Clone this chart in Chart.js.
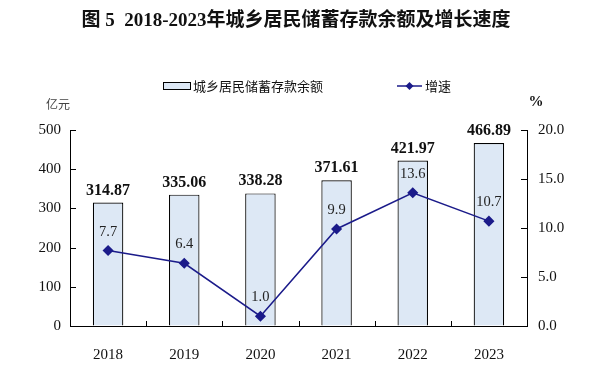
<!DOCTYPE html>
<html>
<head>
<meta charset="utf-8">
<script src="https://cdn.jsdelivr.net/npm/chart.js@4/dist/chart.umd.min.js"></script>
<style>
  html, body { margin: 0; padding: 0; background: #fff; }
  #wrap { width: 590px; height: 379px; position: relative; }
</style>
</head>
<body>
<div id="wrap"><canvas id="myChart" width="590" height="379"></canvas></div>
<script>
// datos del grafico
var years = ['2018', '2019', '2020', '2021', '2022', '2023']
var saldo = [314.87, 335.06, 338.28, 371.61, 421.97, 466.89]
var crecimiento = [7.7, 6.4, 1.0, 9.9, 13.6, 10.7]
var ticksIzq = [0, 100, 200, 300, 400, 500]
var ticksDer = [0, 5, 10, 15, 20]

var titulo = '图 5  2018-2023年城乡居民储蓄存款余额及增长速度'
var leyendaBarra = '城乡居民储蓄存款余额'
var leyendaLinea = '增速'

var serif = "'Liberation Serif', 'Times New Roman', 'Noto Sans CJK SC', serif"
var cjk = "'Noto Sans CJK SC', sans-serif"
var azul = '#1b1b8a'

var extras = {
    id: 'extras',
    afterDatasetsDraw: function (chart) {
        var ctx = chart.ctx
        var area = chart.chartArea
        var x = chart.scales.x
        ctx.save()
        // titulo
        ctx.fillStyle = '#111'
        ctx.font = 'bold 19px ' + serif
        ctx.textAlign = 'center'
        ctx.textBaseline = 'middle'
        ctx.fillText(titulo, 296, 21)

        // leyenda
        ctx.fillStyle = '#dde8f5'
        ctx.fillRect(163.5, 82.5, 27, 7)
        ctx.strokeStyle = '#000'
        ctx.lineWidth = 1
        ctx.strokeRect(163.5, 82.5, 27, 7)
        ctx.font = '13px ' + cjk
        ctx.fillStyle = '#111'
        ctx.textAlign = 'left'
        ctx.fillText(leyendaBarra, 193, 86)
        ctx.strokeStyle = azul
        ctx.lineWidth = 1.5
        ctx.beginPath(); ctx.moveTo(397, 86); ctx.lineTo(422, 86); ctx.stroke()
        ctx.fillStyle = azul
        ctx.beginPath(); ctx.moveTo(409.5, 82); ctx.lineTo(413.5, 86); ctx.lineTo(409.5, 90); ctx.lineTo(405.5, 86); ctx.closePath(); ctx.fill()
        ctx.fillStyle = '#111'
        ctx.fillText(leyendaLinea, 425, 86)

        // unidades
        ctx.font = '12px ' + cjk
        ctx.fillStyle = '#444'
        ctx.textAlign = 'center'
        ctx.fillText('亿元', 58, 104)
        ctx.font = 'bold 15px ' + serif
        ctx.fillStyle = '#111'
        ctx.fillText('%', 536, 102)

        // marcas hacia adentro
        ctx.strokeStyle = '#000'
        ctx.lineWidth = 1
        for (var i = 1; i < years.length; i++) {
            var px = Math.round((x.getPixelForValue(i - 1) + x.getPixelForValue(i)) / 2) + 0.5
            ctx.beginPath(); ctx.moveTo(px, area.bottom); ctx.lineTo(px, area.bottom - 5); ctx.stroke()
        }
        var yI = chart.scales.y
        ticksIzq.forEach(function (v) {
            var py = Math.round(yI.getPixelForValue(v)) + 0.5
            ctx.beginPath(); ctx.moveTo(area.left, py); ctx.lineTo(area.left + 6, py); ctx.stroke()
        })
        var yD = chart.scales.y1
        ticksDer.forEach(function (v) {
            var py = Math.round(yD.getPixelForValue(v)) + 0.5
            ctx.beginPath(); ctx.moveTo(area.right, py); ctx.lineTo(area.right - 6, py); ctx.stroke()
        })

        // etiquetas de barras
        var barras = chart.getDatasetMeta(0).data
        ctx.font = 'bold 16px ' + serif
        ctx.fillStyle = '#111'
        ctx.textBaseline = 'alphabetic'
        barras.forEach(function (b, i) {
            ctx.fillText(saldo[i].toFixed(2), b.x, b.y - 8)
        })
        // etiquetas de la linea
        var puntos = chart.getDatasetMeta(1).data
        ctx.font = '14.5px ' + serif
        ctx.fillStyle = '#222'
        puntos.forEach(function (p, i) {
            ctx.fillText(crecimiento[i].toFixed(1), p.x, p.y - 15)
        })
        ctx.restore()
    }
}

var ctx = document.getElementById('myChart').getContext('2d')
var chart = new Chart(ctx, {
    data: {
        labels: years,
        datasets: [{
            type: 'bar',
            label: leyendaBarra,
            data: saldo,
            backgroundColor: '#dde8f5',
            borderColor: '#000',
            borderWidth: 1.2,
            barPercentage: 0.4,
            categoryPercentage: 1,
            yAxisID: 'y',
            order: 2
        }, {
            type: 'line',
            label: leyendaLinea,
            data: crecimiento,
            borderColor: azul,
            backgroundColor: azul,
            borderWidth: 1.5,
            pointStyle: 'rectRot',
            pointRadius: 4.5,
            pointHoverRadius: 4.5,
            yAxisID: 'y1',
            order: 1
        }]
    },
    options: {
        responsive: false,
        animation: false,
        layout: { padding: { top: 130, left: 0, right: 0, bottom: 0 } },
        plugins: { legend: { display: false }, tooltip: { enabled: false } },
        scales: {
            x: {
                grid: { display: false },
                border: { display: true, color: '#000', width: 1 },
                ticks: { color: '#111', font: { family: serif, size: 15 }, padding: 12 },
                afterFit: function (s) { s.height = 53 }
            },
            y: {
                position: 'left',
                min: 0, max: 500,
                afterBuildTicks: function (s) { s.ticks = ticksIzq.map(v => ({ value: v })) },
                grid: { drawOnChartArea: false, drawTicks: false },
                border: { display: true, color: '#000', width: 1 },
                ticks: { color: '#111', font: { family: serif, size: 15 }, padding: 9 },
                afterFit: function (s) { s.width = 70 }
            },
            y1: {
                position: 'right',
                min: 0, max: 20,
                afterBuildTicks: function (s) { s.ticks = ticksDer.map(v => ({ value: v })) },
                grid: { drawOnChartArea: false, drawTicks: false },
                border: { display: true, color: '#000', width: 1 },
                ticks: { color: '#111', font: { family: serif, size: 15 }, padding: 11,
                    callback: function (v) { return Number(v).toFixed(1) } },
                afterFit: function (s) { s.width = 63 }
            }
        }
    },
    plugins: [extras]
})
</script>
</body>
</html>
